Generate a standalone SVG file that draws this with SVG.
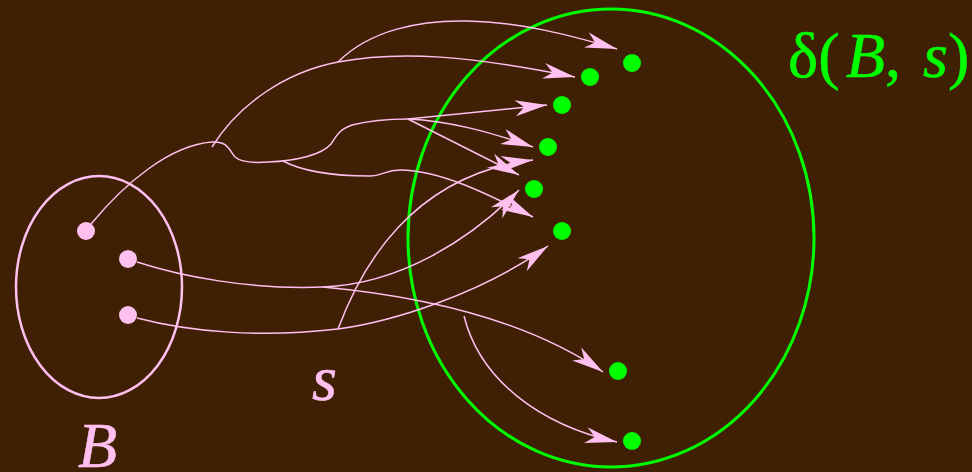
<svg xmlns="http://www.w3.org/2000/svg" width="972" height="472" viewBox="0 0 972 472">
<style>
.bg{fill:#402004}
.conn{fill:none;stroke:#FFC0F0;stroke-width:1.5}
.pink{fill:#FFC0F0}
.green{fill:#00FF00}
.setB{fill:none;stroke:#FFC0F0;stroke-width:2.5}
.setD{fill:none;stroke:#00FF00;stroke-width:3}
.lbl{font-family:"Liberation Serif","Times New Roman",serif;font-size:64px}
.it{font-style:italic}
.tp{stroke:#FFC0F0;stroke-width:0.6}
.tg{stroke:#00FF00;stroke-width:0.6}
</style>
<defs>
<marker id="ah" markerUnits="userSpaceOnUse" markerWidth="40" markerHeight="24" viewBox="-34 -12 36 24" refX="0" refY="0" orient="auto">
<path d="M0,0 L-32,-8 Q-26,-3 -23,0 Q-26,3 -32,8 Z" fill="#FFC0F0"/>
</marker>
</defs>
<rect class="bg" x="0" y="0" width="972" height="472"/>

<g id="setB">
<ellipse class="setB" cx="99" cy="287" rx="83" ry="111"/>
<text class="lbl it pink tp" x="78" y="467">B</text>
</g>
<g id="b1"><circle class="pink" cx="86" cy="231" r="9"/></g>
<g id="b2"><circle class="pink" cx="128" cy="259" r="9"/></g>
<g id="b3"><circle class="pink" cx="128" cy="315" r="9"/></g>

<g id="setDelta">
<ellipse class="setD" cx="611" cy="238" rx="203" ry="229"/>
<text class="lbl green tg" x="788" y="77">δ(<tspan class="it" x="846">B</tspan>,<tspan class="it" x="923">s</tspan>)</text>
</g>
<g id="d1"><circle class="green" cx="632" cy="63" r="9"/></g>
<g id="d2"><circle class="green" cx="590" cy="77" r="9"/></g>
<g id="d3"><circle class="green" cx="562" cy="105" r="9"/></g>
<g id="d4"><circle class="green" cx="548" cy="147" r="9"/></g>
<g id="d5"><circle class="green" cx="534" cy="189" r="9"/></g>
<g id="d6"><circle class="green" cx="562" cy="231" r="9"/></g>
<g id="d7"><circle class="green" cx="618" cy="371" r="9"/></g>
<g id="d8"><circle class="green" cx="632" cy="441" r="9"/></g>

<g id="label-s"><text class="lbl it pink tp" x="312" y="400">s</text></g>

<g id="connectors">
<path class="conn" d="M91,224 C125,183 170,145 212,142 C228,141 229,150 235,157 C242,163 255,163 268,162 C295,161 322,155 331,144 C336,137 338,130 352,125 C372,120 395,119 408,119"/>
<path class="conn" marker-end="url(#ah)" d="M408,119 C450,121 490,132 533,147"/>
<path class="conn" marker-end="url(#ah)" d="M408,119 L547,105"/>
<path class="conn" marker-end="url(#ah)" d="M408,119 L519,175"/>
<path class="conn" marker-end="url(#ah)" d="M283,161 C300,170 330,176 370,176 C383,176 385,170 400,170 C440,170 490,195 533,217"/>
<path class="conn" marker-end="url(#ah)" d="M212,147 C238,105 285,72 338,62 C400,50 470,56 575,77"/>
<path class="conn" marker-end="url(#ah)" d="M338,62 C370,30 420,20 467,21 C520,22 570,35 617,49"/>
<path class="conn" marker-end="url(#ah)" d="M137,262 C180,276 250,290 323,287 C400,284 470,240 519,190"/>
<path class="conn" marker-end="url(#ah)" d="M323,287 C430,297 530,322 603,372"/>
<path class="conn" marker-end="url(#ah)" d="M137,318 C190,332 260,338 338,329 C390,322 480,295 548,246"/>
<path class="conn" marker-end="url(#ah)" d="M338,329 C360,270 410,175 533,160"/>
<path class="conn" marker-end="url(#ah)" d="M464,316 C480,380 540,425 617,442"/>
</g>
</svg>
